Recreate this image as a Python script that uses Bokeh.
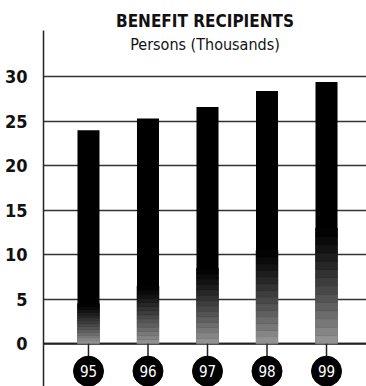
from bokeh.plotting import figure
from bokeh.models import ColumnDataSource, FixedTicker, Label, Range1d
from bokeh.embed import file_html
from bokeh.resources import INLINE
from bokeh.core.properties import value

# Benefit recipients by year, thousands of persons
years = [95, 96, 97, 98, 99]
year_labels = ["95", "96", "97", "98", "99"]
recipients = [24.0, 25.3, 26.6, 28.4, 29.4]
y_ticks = [0, 5, 10, 15, 20, 25, 30]

# height (in thousands) over which each bar fades from grey into black
fade_tops = [4.5, 6.5, 8.5, 10.5, 13.0]

FONT = "DejaVu Sans Condensed"
X0, X1 = 94.244, 99.672

p = figure(
    width=366, height=386,
    x_range=Range1d(X0, X1),
    y_range=Range1d(-4.8, 35.2),
    x_axis_location=None,
    output_backend="svg", toolbar_location=None,
    min_border_left=43, min_border_right=0,
    min_border_top=30, min_border_bottom=0,
)
p.outline_line_color = None
p.background_fill_color = "white"
p.border_fill_color = "white"

# title
p.title.text = "BENEFIT RECIPIENTS"
p.title.align = "center"
p.title.text_font = FONT
p.title.text_font_size = "17px"
p.title.text_font_style = "bold"
p.title.text_color = "#111111"
p.title.standoff = 0

# y axis and horizontal rules
p.yaxis.ticker = FixedTicker(ticks=y_ticks)
p.yaxis.major_tick_line_color = None
p.yaxis.minor_tick_line_color = None
p.yaxis.axis_line_color = "#222222"
p.yaxis.axis_line_width = 1.5
p.yaxis.major_label_standoff = 10
p.yaxis.major_label_text_font = FONT
p.yaxis.major_label_text_font_size = "18px"
p.yaxis.major_label_text_font_style = "bold"
p.yaxis.major_label_text_color = "#111111"

p.xgrid.visible = False
p.ygrid.ticker = FixedTicker(ticks=y_ticks)
p.ygrid.grid_line_color = "#333333"
p.ygrid.grid_line_width = 1.4

# heavier baseline
p.segment(x0=[X0], x1=[X1], y0=[0], y1=[0], line_color="#222222", line_width=2)

# bars: solid black, then a grey fade at the base
BAR_W = 0.37
p.vbar(x=years, top=recipients, bottom=0, width=BAR_W, fill_color="black", line_color=None)

N = 14
sx, sb, st, sc = [], [], [], []
for x, v, f in zip(years, recipients, fade_tops):
    f = min(f, v)
    for k in range(N):
        t = (k + 0.5) / N
        g = int(round(0x98 * (1 - t) ** 1.2))
        sx.append(x)
        sb.append(f * k / N)
        st.append(f * (k + 1) / N)
        sc.append("#%02x%02x%02x" % (g, g, g))
fade = ColumnDataSource(dict(x=sx, bottom=sb, top=st, color=sc))
p.vbar(x="x", bottom="bottom", top="top", width=BAR_W, fill_color="color",
       line_color="color", line_width=0.5, source=fade)

# year badges below the baseline
badge_y = -3.08
p.segment(x0=years, x1=years, y0=[0] * len(years), y1=[badge_y] * len(years),
          line_color="#222222", line_width=1.5)
p.scatter(x=years, y=[badge_y] * len(years), size=30, marker="circle",
          fill_color="black", line_color="black")
p.text(x=years, y=[badge_y] * len(years), text=year_labels,
       text_align="center", text_baseline="middle",
       text_color="white", text_font=value(FONT), text_font_size="15px")

# subtitle
p.add_layout(Label(x=(X0 + X1) / 2, y=33.6, text="Persons (Thousands)",
                   text_align="center", text_baseline="middle",
                   text_font=FONT, text_font_size="16px", text_color="#111111"))

open("out.html", "w").write(file_html(p, INLINE))
